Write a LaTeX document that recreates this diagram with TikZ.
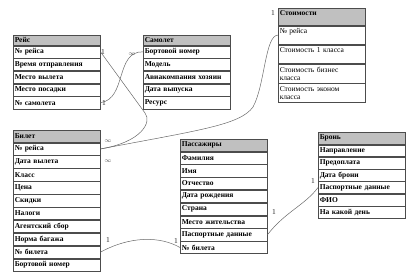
\documentclass[tikz,border=0pt]{standalone}
\usepackage{fontspec}
\setmainfont{Liberation Serif}
\usetikzlibrary{positioning}
\definecolor{headgray}{RGB}{192,192,192}
\definecolor{linkgray}{RGB}{105,105,105}

\begin{document}
\begin{tikzpicture}[
    x=1pt, y=-1pt,
    every node/.style={font=\fontsize{7.5}{8}\selectfont},
    head/.style args={#1/#2}{rectangle, draw=black!70, line width=0.5pt, fill=headgray,
                 font=\fontsize{7.5}{8}\selectfont\bfseries,
                 text width=#1, minimum height=#2, inner xsep=1.5pt, inner ysep=0pt, align=left, anchor=north west},
    field/.style args={#1/#2}{rectangle, draw=black!70, line width=0.5pt, fill=white,
                  font=\fontsize{7.5}{8}\selectfont\bfseries,
                  text width=#1, minimum height=#2, inner xsep=1.5pt, inner ysep=0pt, align=left},
    plainfield/.style={font=\fontsize{7.5}{8}\selectfont},
    card/.style={inner sep=0pt, text=black!85},
    infcard/.style={inner sep=0pt, text=black!70, font=\fontsize{6.5}{6.5}\selectfont},
    relation/.style={draw=linkgray, line width=0.5pt}
]
\useasboundingbox (0,0) rectangle (409,276);

% Рейс
\node (reis) [head=84pt/10pt] at (13,35) {Рейс};
\node (reis1) [field=84pt/12.2pt, below=0pt of reis] {№ рейса};
\node (reis2) [field=84pt/12.2pt, below=0pt of reis1] {Время отправления};
\node (reis3) [field=84pt/12.2pt, below=0pt of reis2] {Место вылета};
\node (reis4) [field=84pt/12.2pt, below=0pt of reis3] {Место посадки};
\node (reis5) [field=84pt/12.2pt, below=0pt of reis4] {№ самолета};

% Самолет
\node (plane) [head=84pt/10pt] at (143,35) {Самолет};
\node (plane1) [field=84pt/12.2pt, below=0pt of plane] {Бортовой номер};
\node (plane2) [field=84pt/12.2pt, below=0pt of plane1] {Модель};
\node (plane3) [field=84pt/12.2pt, below=0pt of plane2] {Авиакомпания хозяин};
\node (plane4) [field=84pt/12.2pt, below=0pt of plane3] {Дата выпуска};
\node (plane5) [field=84pt/12.2pt, below=0pt of plane4] {Ресурс};

% Стоимости
\node (cost) [head=84pt/17pt] at (278,8) {Стоимости\\\mbox{}};
\node (cost1) [field=84pt/18.7pt, plainfield, below=0pt of cost] {№ рейса\\\mbox{}};
\node (cost2) [field=84pt/18.7pt, plainfield, below=0pt of cost1] {Стоимость 1 класса\\\mbox{}};
\node (cost3) [field=84pt/18.7pt, plainfield, below=0pt of cost2] {Стоимость бизнес\\класса};
\node (cost4) [field=84pt/18.7pt, plainfield, below=0pt of cost3] {Стоимость эконом\\класса};

% Билет
\node (ticket) [head=84pt/12pt] at (13,130) {Билет};
\node (ticket1) [field=84pt/12.4pt, below=0pt of ticket] {№ рейса};
\node (ticket2) [field=84pt/12.4pt, below=0pt of ticket1] {Дата вылета};
\node (ticket3) [field=84pt/12.4pt, below=0pt of ticket2] {Класс};
\node (ticket4) [field=84pt/12.4pt, below=0pt of ticket3] {Цена};
\node (ticket5) [field=84pt/12.4pt, below=0pt of ticket4] {Скидки};
\node (ticket6) [field=84pt/12.4pt, below=0pt of ticket5] {Налоги};
\node (ticket7) [field=84pt/12.4pt, below=0pt of ticket6] {Агентский сбор};
\node (ticket8) [field=84pt/12.4pt, below=0pt of ticket7] {Норма багажа};
\node (ticket9) [field=84pt/12.4pt, below=0pt of ticket8] {№ билета};
\node (ticket10) [field=84pt/12.4pt, below=0pt of ticket9] {Бортовой номер};

% Пассажиры
\node (pass) [head=84pt/12pt] at (180,139) {Пассажиры};
\node (pass1) [field=84pt/12.3pt, below=0pt of pass] {Фамилия};
\node (pass2) [field=84pt/12.3pt, below=0pt of pass1] {Имя};
\node (pass3) [field=84pt/12.3pt, below=0pt of pass2] {Отчество};
\node (pass4) [field=84pt/12.3pt, below=0pt of pass3] {Дата рождения};
\node (pass5) [field=84pt/12.3pt, below=0pt of pass4] {Страна};
\node (pass6) [field=84pt/12.3pt, below=0pt of pass5] {Место жительства};
\node (pass7) [field=84pt/12.3pt, below=0pt of pass6] {Паспортные данные};
\node (pass8) [field=84pt/12.3pt, below=0pt of pass7] {№ билета};

% Бронь
\node (book) [head=84pt/12pt] at (318,132) {Бронь};
\node (book1) [field=84pt/11.8pt, below=0pt of book] {Направление};
\node (book2) [field=84pt/11.8pt, below=0pt of book1] {Предоплата};
\node (book3) [field=84pt/11.8pt, below=0pt of book2] {Дата брони};
\node (book4) [field=84pt/11.8pt, below=0pt of book3] {Паспортные данные};
\node (book5) [field=84pt/11.8pt, below=0pt of book4] {ФИО};
\node (book6) [field=84pt/11.8pt, below=0pt of book5] {На какой день};

% связи
\coordinate (bendA) at (145,113);
\coordinate (bendB) at (253,107);
\draw [relation] (reis5.east) .. controls (127,99) and (115,51) .. (plane1.west);
\draw [relation] (reis1.east) -- (bendA) .. controls (152,122) and (142,142) .. (ticket1.east);
\draw [relation] (ticket1.east) .. controls (200,130) and (240,125) .. (bendB)
    .. controls (265,85) and (265,35) .. (cost1.west);
\draw [relation] (ticket9.east) .. controls (130,236) and (160,236) .. (pass8.west);
\draw [relation] (pass7.east) .. controls (285,212) and (305,205) .. (book4.west);

\node (c1) [card] at (104,103) {1};
\node (c2) [infcard] at (132,54) {$\infty$};
\node (c3) [card] at (103,52) {1};
\node (c4) [infcard] at (108,141) {$\infty$};
\node (c5) [infcard] at (108,161) {$\infty$};
\node (c6) [card] at (273,13) {1};
\node (c7) [card] at (108,240) {1};
\node (c8) [card] at (176,241) {1};
\node (c9) [card] at (274,212) {1};
\node (c10) [card] at (313,181) {1};

\end{tikzpicture}
\end{document}
